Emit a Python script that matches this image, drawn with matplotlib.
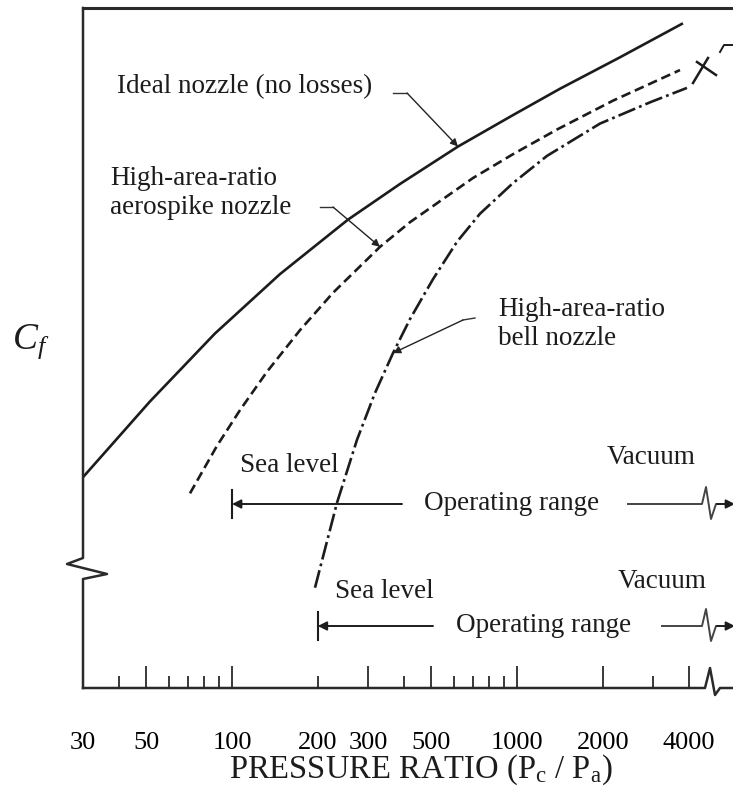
import matplotlib
matplotlib.use('Agg')
import matplotlib.pyplot as plt
from matplotlib.ticker import FixedLocator, FuncFormatter

plt.rcParams['font.family'] = ['Liberation Serif', 'DejaVu Serif']
plt.rcParams['mathtext.fontset'] = 'custom'
plt.rcParams['mathtext.rm'] = 'Liberation Serif'
plt.rcParams['mathtext.it'] = 'Liberation Serif:italic'
plt.rcParams['lines.scale_dashes'] = False

# curves (pressure ratio, relative Cf)
ideal_pr = [30, 51.5, 87.1, 147.4, 255.2, 388.6, 620.7, 968, 1415, 2298, 3822]
ideal_cf = [1.248, 1.337, 1.417, 1.487, 1.551, 1.593, 1.637, 1.674, 1.705, 1.742, 1.782]

aero_pr = [71.2, 88.6, 106.7, 132.6, 173.2, 226.2, 330.6, 421.2, 700.8, 968, 1381, 2172, 3732]
aero_cf = [1.229, 1.285, 1.327, 1.372, 1.421, 1.465, 1.519, 1.548, 1.600, 1.628, 1.657, 1.691, 1.727]

bell_pr = [195.5, 233.6, 274.5, 317.4, 367.2, 421.2, 507.3, 615.9, 741.6, 968, 1274, 1955, 2928, 3948]
bell_cf = [1.118, 1.218, 1.292, 1.347, 1.394, 1.434, 1.481, 1.525, 1.558, 1.594, 1.626, 1.664, 1.689, 1.706]

# operating ranges: sea level pressure ratio
aero_sea_level = 100
bell_sea_level = 200

tick_major = [50, 100, 300, 500, 1000, 2000, 4000]
tick_minor = [30, 40, 60, 70, 80, 90, 200, 400, 600, 700, 800, 900, 3000]
tick_labels = [30, 50, 100, 200, 300, 500, 1000, 2000, 4000]

INK = '#1c1c1c'
GREY = '#444444'
FS = 19.5

fig = plt.figure(figsize=(7.33, 7.91), dpi=100)
ax = fig.add_axes([83 / 733, 103 / 791, 650 / 733, 680 / 791])
ax.set_xscale('log')
ax.set_xlim(30, 5727)
ax.set_ylim(1.0, 1.8)


def ax_pt(px, py):
    # picture pixel -> axes fraction
    return (px - 83) / 650, (688 - py) / 680


def px_line(points, **kw):
    xs, ys = zip(*[ax_pt(px, py) for px, py in points])
    ax.plot(xs, ys, transform=ax.transAxes, clip_on=False, **kw)


# curves
ax.plot(ideal_pr, ideal_cf, color=INK, lw=1.9, solid_capstyle='butt', solid_joinstyle='round')
ax.plot(aero_pr, aero_cf, color=INK, lw=1.9, linestyle=(0, (7, 3.5)))
ax.plot(bell_pr, bell_cf, color=INK, lw=1.9, linestyle=(0, (13, 3, 2, 3)))

# spines
for s in ['left', 'bottom', 'right']:
    ax.spines[s].set_visible(False)
ax.spines['top'].set_linewidth(2.2)
ax.spines['top'].set_color('#2a2a2a')
px_line([(83, 8), (83, 558), (67, 564), (107, 574), (83, 579), (83, 688)], color='#2a2a2a', lw=1.8)
px_line([(83, 688), (705, 688), (710, 668), (715, 695), (720, 688), (740, 688)], color='#2a2a2a', lw=1.8)

# break mark where the curves go to vacuum
px_line([(693, 83), (708, 58)], color=INK, lw=1.8)
px_line([(697, 62), (716, 75)], color=INK, lw=1.8)
px_line([(720, 52), (724, 45), (733, 45)], color=INK, lw=1.4)

# ticks
ax.xaxis.set_major_locator(FixedLocator(tick_major))
ax.xaxis.set_minor_locator(FixedLocator(tick_minor))
fmt = FuncFormatter(lambda v, p: '%d' % round(v) if round(v) in tick_labels else '')
ax.xaxis.set_major_formatter(fmt)
ax.xaxis.set_minor_formatter(fmt)
ax.tick_params(axis='x', which='major', direction='in', length=16, width=1.3,
               color='#2a2a2a', pad=32, labelsize=19)
ax.tick_params(axis='x', which='minor', direction='in', length=9, width=1.3,
               color='#2a2a2a', pad=32, labelsize=19)
ax.tick_params(axis='y', left=False, labelleft=False)

fig.text(421 / 733, 1 - 770 / 791, 'PRESSURE RATIO (P$_\\mathrm{c}$ / P$_\\mathrm{a}$)',
         ha='center', va='center', fontsize=23.5, color=INK)
fig.text(31 / 733, 1 - 342 / 791, '$C_f$', ha='center', va='center', fontsize=27, color=INK)

# labels with leaders
ax.text(*ax_pt(117, 87), 'Ideal nozzle (no losses)', transform=ax.transAxes,
        fontsize=FS, va='center', ha='left', color=INK)
ax.text(*ax_pt(110, 193), 'High-area-ratio\naerospike nozzle', transform=ax.transAxes,
        fontsize=FS, va='center', ha='left', color=INK, linespacing=1.2)
ax.text(*ax_pt(498, 324), 'High-area-ratio\nbell nozzle', transform=ax.transAxes,
        fontsize=FS, va='center', ha='left', color=INK, linespacing=1.2)


def leader(stub_from, stub_to, tip):
    px_line([stub_from, stub_to], color='#333333', lw=1.0)
    ax.annotate('', xy=tip, xycoords='data', xytext=ax_pt(*stub_to), textcoords='axes fraction',
                arrowprops=dict(arrowstyle='-|>', color='#222222', lw=1.0, mutation_scale=11,
                                shrinkA=0, shrinkB=0))


leader((393, 93), (407, 93), (ideal_pr[6], ideal_cf[6]))
leader((320, 207), (333, 207), (aero_pr[6], aero_cf[6]))
leader((475, 318), (463, 320), (bell_pr[4], bell_cf[4]))


# operating ranges
def op_range(sea_x, y_px, sea_lbl, vac_lbl, gap_l, gap_r, txt_x):
    y = 1.0 + (688 - y_px) / 850
    ax.plot([sea_x, sea_x], [y - 14 / 850, y + 14 / 850], color=INK, lw=1.5)
    ax.annotate('', xy=(sea_x, y), xytext=ax_pt(gap_l, y_px), textcoords='axes fraction',
                arrowprops=dict(arrowstyle='-|>', color=INK, lw=1.4, mutation_scale=13,
                                shrinkA=0, shrinkB=0))
    px_line([(gap_r, y_px), (702, y_px), (706, y_px - 17), (711, y_px + 15),
             (716, y_px), (719, y_px)], color=GREY, lw=1.4)
    ax.annotate('', xy=ax_pt(735, y_px), xycoords='axes fraction', xytext=ax_pt(717, y_px),
                textcoords='axes fraction', annotation_clip=False,
                arrowprops=dict(arrowstyle='-|>', color=INK, lw=1.4, mutation_scale=13,
                                shrinkA=0, shrinkB=0))
    ax.text(*ax_pt(txt_x, y_px - 1), 'Operating range', transform=ax.transAxes,
            fontsize=FS, ha='center', va='center', color=INK)
    ax.text(*ax_pt(sea_lbl[0], sea_lbl[1]), 'Sea level', transform=ax.transAxes,
            fontsize=FS, ha='left', va='center', color=INK)
    ax.text(*ax_pt(vac_lbl[0], vac_lbl[1]), 'Vacuum', transform=ax.transAxes,
            fontsize=FS, ha='left', va='center', color=INK)


op_range(aero_sea_level, 504, (240, 465), (607, 457), 402, 628, 512)
op_range(bell_sea_level, 626, (335, 592), (618, 582), 433, 662, 544)

fig.savefig('out.png', dpi=100)
